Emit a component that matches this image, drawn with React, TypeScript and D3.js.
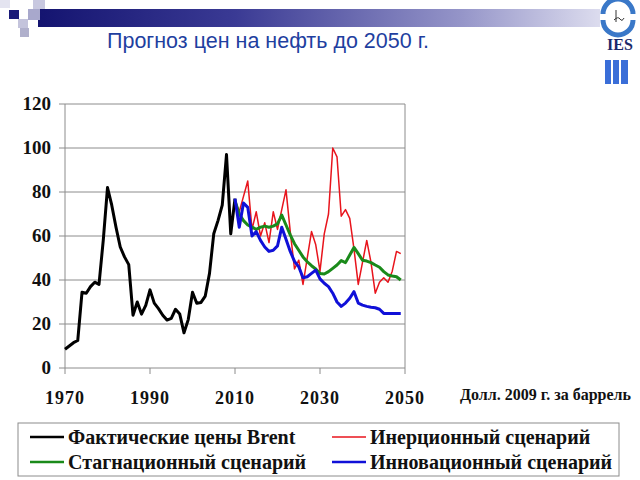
import React from "react";
import * as d3 from "d3";

const brentYears = d3.range(1970, 2011);
const brentValues = [8.5, 10, 11.5, 12.5, 34.4, 34, 37, 39, 38, 58, 82, 74, 64, 55, 50.5, 47, 24, 30, 24.5, 28.5, 35.5, 29.5, 27, 24, 21.8, 22.6, 26.7, 24.5, 16, 22, 34.4, 29.4, 29.8, 32.7, 43, 61, 67, 74, 97, 61, 77];

const scenarioYears = d3.range(2010, 2050);
const inertialValues = [76, 71, 78, 85, 63, 71, 60, 66, 57, 71, 63, 72, 81, 62, 45, 49, 38, 50, 62, 56, 44, 61, 70, 100, 96, 69, 72, 68, 54, 38, 48, 58, 48, 34, 39, 41, 39, 44, 53, 52];
const stagnationValues = [76, 70, 67, 65, 64, 63, 64, 64.5, 64, 64.5, 65.5, 69.5, 65, 60.5, 56.5, 53.5, 50.5, 48.3, 46.5, 45, 43, 42.7, 43.8, 45.3, 46.8, 48.8, 47.9, 51.4, 54.8, 52, 49, 48.6, 47.9, 46.8, 45.8, 43.8, 42.3, 41.8, 41.5, 40];
const innovationValues = [77, 64, 75, 73, 60, 62, 58, 55, 53, 53.5, 55.5, 64, 58.5, 53, 48.5, 46, 41, 41.5, 43, 44.5, 40.5, 38.5, 37, 34, 30, 28, 29.5, 31.7, 34.7, 29.5, 28.6, 28, 27.6, 27.4, 26.7, 24.8, 24.8, 24.8, 24.8, 24.8];

const yTicks = [0, 20, 40, 60, 80, 100, 120];
const xTicks = [1970, 1990, 2010, 2030, 2050];

const titleText = "Прогноз цен на нефть до 2050 г.";
const unitText = "Долл. 2009 г. за баррель";
const legendLabels = ["Фактические цены Brent", "Инерционный сценарий", "Стагнационный сценарий", "Инновационный сценарий"];

const serif = "'Liberation Serif', 'Times New Roman', serif";

export default function App() {
  const x = d3.scaleLinear().domain([1970, 2050]).range([65, 405]);
  const y = d3.scaleLinear().domain([0, 120]).range([368, 104]);
  const line = d3.line<[number, number]>().x((d) => x(d[0])).y((d) => y(d[1]));

  const series = [
    { years: brentYears, values: brentValues, color: "#000000", width: 3 },
    { years: scenarioYears, values: inertialValues, color: "#e8141c", width: 1.5 },
    { years: scenarioYears, values: stagnationValues, color: "#1a8a1a", width: 3 },
    { years: scenarioYears, values: innovationValues, color: "#1010d8", width: 3 },
  ];

  const legend = [
    { label: legendLabels[0], color: "#000000", w: 2.5, lx: 30, ly: 437 },
    { label: legendLabels[1], color: "#e8141c", w: 1.5, lx: 332, ly: 437 },
    { label: legendLabels[2], color: "#1a8a1a", w: 2.5, lx: 30, ly: 462 },
    { label: legendLabels[3], color: "#1010d8", w: 2.5, lx: 332, ly: 462 },
  ];

  return (
    <svg width={640} height={480} style={{ position: "absolute", left: 0, top: 0, background: "#fff" }}>
      <defs>
        <linearGradient id="band" x1="0" x2="1" y1="0" y2="0">
          <stop offset="0" stopColor="#141470" />
          <stop offset="0.35" stopColor="#3a3a94" />
          <stop offset="0.75" stopColor="#9494c8" />
          <stop offset="1" stopColor="#dcdcee" />
        </linearGradient>
      </defs>
      {/* header decoration */}
      <rect x={38} y={9} width={562} height={18} fill="url(#band)" />
      <rect x={0} y={0} width={10} height={8} fill="#e4e4f0" />
      <rect x={33} y={0} width={12} height={9} fill="#c8c8e0" />
      <rect x={9} y={10} width={10} height={9} fill="#1a1a78" />
      <rect x={28} y={9} width={12} height={11} fill="#a8a8cc" />
      <rect x={18} y={19} width={10} height={9} fill="#c4c4dc" />
      <rect x={20} y={28} width={9} height={9} fill="#b0b0cc" />
      {/* logo */}
      <path d="M 603 14 A 15 15 0 0 1 633 14" fill="none" stroke="#3a78c8" strokeWidth={5} />
      <path d="M 633 20 A 15 15 0 0 1 603 20" fill="none" stroke="#3a78c8" strokeWidth={5} />
      <path d="M 616 10 L 616 22 M 614 20 Q 618 16 620 19 Q 622 22 624 18" fill="none" stroke="#333" strokeWidth={1} />
      <text x={620} y={50} textAnchor="middle" fontFamily={serif} fontWeight="bold" fontSize={16} fill="#1a2a6a">IES</text>
      <rect x={605} y={60} width={6} height={24} fill="#3a6ed8" />
      <rect x={613} y={60} width={6} height={24} fill="#3a6ed8" />
      <rect x={621} y={60} width={7} height={24} fill="#3a6ed8" />
      {/* title */}
      <text x={107} y={48} fontFamily="'Liberation Sans', Arial, sans-serif" fontSize={21.5} fill="#1f3f9f">{titleText}</text>

      {/* grid */}
      {yTicks.map((t) => (
        <g key={"gy" + t}>
          <line x1={59} x2={x(2050)} y1={y(t)} y2={y(t)} stroke="#8c8c8c" strokeWidth={1} />
          <text x={51} y={y(t) + 6} textAnchor="end" fontFamily={serif} fontWeight="bold" fontSize={19} fill="#111">{t}</text>
        </g>
      ))}
      <line x1={x(1970)} x2={x(1970)} y1={y(120)} y2={y(0)} stroke="#8c8c8c" strokeWidth={1} />
      <line x1={x(2050)} x2={x(2050)} y1={y(120)} y2={y(0)} stroke="#8c8c8c" strokeWidth={1} />
      {xTicks.map((t) => (
        <g key={"gx" + t}>
          <line x1={x(t)} x2={x(t)} y1={y(0)} y2={y(0) + 6} stroke="#8c8c8c" strokeWidth={1} />
          <text x={x(t)} y={404} textAnchor="middle" fontFamily={serif} fontWeight="bold" fontSize={18} letterSpacing={1} fill="#111">{t}</text>
        </g>
      ))}

      {/* series */}
      {series.map((s, i) => (
        <path
          key={"s" + i}
          d={line(s.years.map((yr, j) => [yr, s.values[j]] as [number, number])) || ""}
          fill="none"
          stroke={s.color}
          strokeWidth={s.width}
          strokeLinejoin="round"
        />
      ))}

      <text x={460} y={400} fontFamily={serif} fontWeight="bold" fontSize={16} fill="#111">{unitText}</text>

      {/* legend */}
      <rect x={18} y={423} width={601} height={53} fill="#fff" stroke="#8c8c8c" strokeWidth={1} />
      {legend.map((l, i) => (
        <g key={"l" + i}>
          <line x1={l.lx} x2={l.lx + 34} y1={l.ly} y2={l.ly} stroke={l.color} strokeWidth={l.w} />
          <text x={l.lx + 38} y={l.ly + 7} fontFamily={serif} fontWeight="bold" fontSize={20} fill="#111">{l.label}</text>
        </g>
      ))}
    </svg>
  );
}
